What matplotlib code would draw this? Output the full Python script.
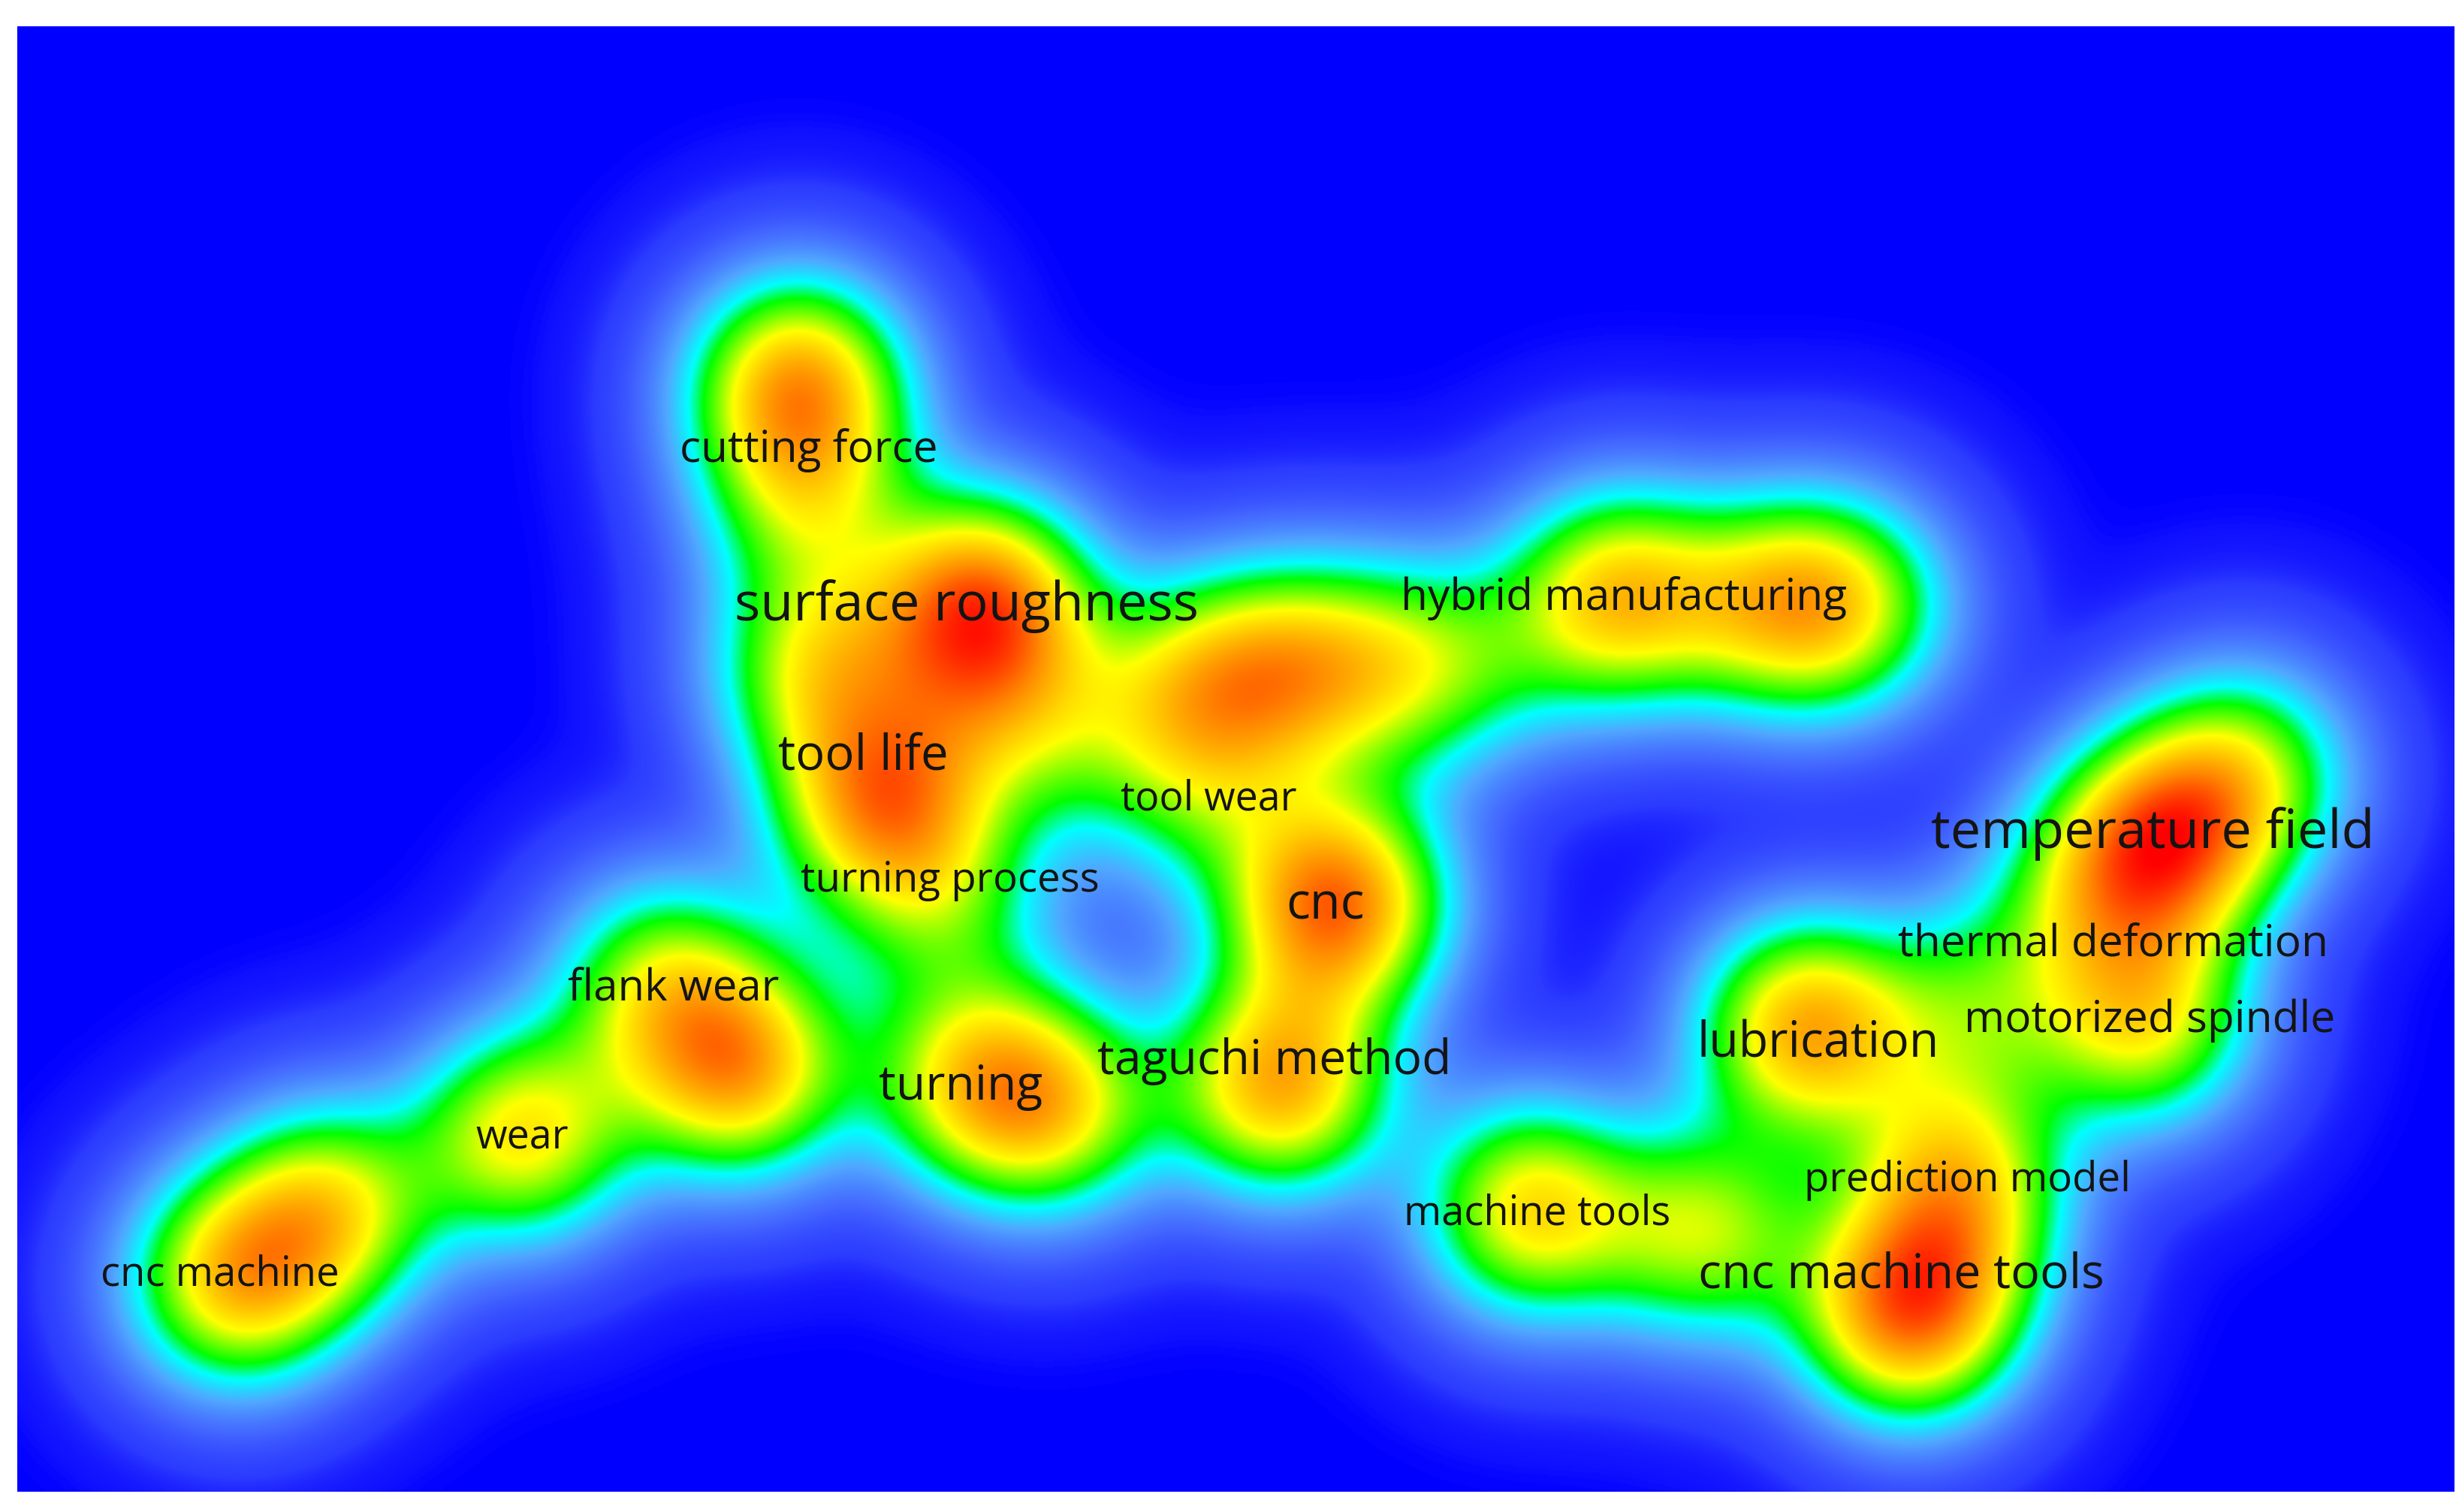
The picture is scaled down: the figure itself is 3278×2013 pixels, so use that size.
import matplotlib
matplotlib.use('Agg')
import matplotlib.pyplot as plt
from matplotlib.colors import LinearSegmentedColormap
import numpy as np

# keyword labels: text, centre x, centre y, width (map units, 1568 x 963 space)
labels = ['cutting force', 'surface roughness', 'hybrid manufacturing', 'tool life', 'tool wear',
          'temperature field', 'turning process', 'cnc', 'thermal deformation', 'flank wear',
          'motorized spindle', 'lubrication', 'taguchi method', 'turning', 'wear',
          'prediction model', 'machine tools', 'cnc machine tools', 'cnc machine']
label_x = [515, 615.5, 1034, 550, 770, 1371, 605, 844, 1346, 429, 1369, 1158, 811.5, 612, 332.5, 1253, 979, 1211, 140]
label_y = [287, 386, 381, 482, 509, 531, 561, 577, 602, 630, 650, 665, 676, 692, 725, 752, 773, 812, 812]
label_w = [164, 295, 284, 108, 112, 282, 190, 50, 274, 134, 236, 154, 225, 104, 59, 208, 170, 258, 152]

peak_x = [508, 512, 625, 630, 520, 560, 600, 680, 765, 830, 900, 955, 765, 850, 815, 1030, 1125, 1175,
          420, 470, 620, 672, 333, 150, 210, 1378, 1430, 1330, 1365, 1150, 1255, 975, 1085,
          1215, 1245, 1250]
peak_y = [245, 320, 385, 450, 425, 510, 575, 470, 435, 425, 425, 420, 505, 575, 690, 380, 385, 385,
          625, 680, 688, 705, 722, 815, 770, 535, 490, 570, 650, 655, 640, 770, 785,
          835, 745, 790]
peak_w = [0.68, 0.35, 0.78, 0.22, 0.46, 0.66, 0.30, 0.20, 0.44, 0.46, 0.34, 0.12, 0.26, 0.80, 0.68, 0.60, 0.40, 0.44,
          0.42, 0.66, 0.48, 0.46, 0.56, 0.60, 0.50, 0.70, 0.40, 0.30, 0.52, 0.68, 0.30, 0.58, 0.46,
          0.76, 0.46, 0.16]

sigma = 48

colors = [(0.00, '#0000ff'), (0.002, '#1010ff'), (0.02, '#2c3cff'), (0.08, '#4468ff'),
          (0.17, '#50a8ff'), (0.27, '#00ffff'), (0.36, '#00ff00'),
          (0.55, '#ffff00'), (0.78, '#ff8800'), (1.00, '#ff0000')]
cmap = LinearSegmentedColormap.from_list('density', colors, N=2048)

xx, yy = np.meshgrid(np.arange(11, 1563, 1.0), np.arange(17, 950, 1.0))
density = np.zeros_like(xx)
for px, py, w in zip(peak_x, peak_y, peak_w):
    density += w * np.exp(-((xx - px) ** 2 + (yy - py) ** 2) / (2 * sigma ** 2))

fig = plt.figure(figsize=(32.78, 20.13), dpi=100)
ax = fig.add_axes([0, 0, 1, 1])
ax.imshow(density, cmap=cmap, vmin=0, vmax=1, extent=(11, 1563, 950, 17), interpolation='bilinear', aspect='auto')
ax.set_xlim(0, 1568)
ax.set_ylim(963, 0)
ax.axis('off')

fig.canvas.draw()
renderer = fig.canvas.get_renderer()
scale = 3278 / 1568
for name, x, y, w in zip(labels, label_x, label_y, label_w):
    t = ax.text(x, y, name, ha='center', va='center', color='#141414', family='Open Sans', fontsize=40)
    width = t.get_window_extent(renderer).width
    t.set_fontsize(40 * w * scale / width)

fig.savefig('out.png', dpi=100)
plt.close()
